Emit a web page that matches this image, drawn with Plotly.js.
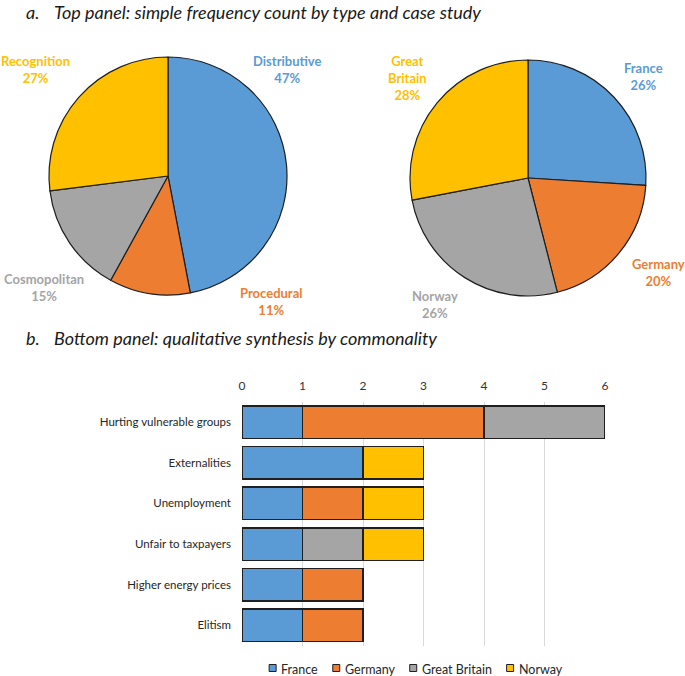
<!DOCTYPE html>
<html>
<head>
<meta charset="utf-8">
<script src="https://cdn.plot.ly/plotly-3.0.1.min.js"></script>
<style>html,body{margin:0;padding:0;background:#fff;}#chart{width:685px;height:676px;}</style>
</head>
<body>
<div id="chart"></div>
<script>
// ---- data ----
var typeLabels = ['Distributive', 'Procedural', 'Cosmopolitan', 'Recognition'];
var typeShares = [47, 11, 15, 27];
var caseLabels = ['France', 'Germany', 'Norway', 'Great Britain'];
var caseShares = [26, 20, 26, 28];

var commonalities = ['Hurting vulnerable groups', 'Externalities', 'Unemployment',
                     'Unfair to taxpayers', 'Higher energy prices', 'Elitism'];
var franceCounts  = [1, 2, 1, 1, 1, 1];
var germanyCounts = [3, 0, 1, 0, 1, 1];
var britainCounts = [2, 0, 0, 1, 0, 0];
var norwayCounts  = [0, 1, 1, 1, 0, 0];
var countTicks = [0, 1, 2, 3, 4, 5, 6];

// ---- styles ----
var BLUE = '#5B9BD5', ORANGE = '#ED7D31', GREY = '#A5A5A5', GOLD = '#FFC000';
var typeColors = [BLUE, ORANGE, GREY, GOLD];
var caseColors = [BLUE, ORANGE, GREY, GOLD];
var FONT = 'Lato, "Open Sans", sans-serif';
var W = 685, H = 676;
function px(x) { return x / W; }
function py(y) { return 1 - y / H; }

// label anchor positions (pixels) for pie labels
var typeLabelPos = [[287, 70], [271, 302], [44, 288], [35, 70]];
var caseLabelPos = [[643, 76.5], [658, 272.5], [435, 304.5], [407, 78.5]];

var pieLine = {color: '#1f1f1f', width: 1.2};
var barLine = {color: '#1f1f1f', width: 1.5};

var traces = [
  {
    type: 'pie', labels: typeLabels, values: typeShares, sort: false,
    direction: 'clockwise', rotation: 0, textinfo: 'none', hoverinfo: 'label+percent',
    marker: {colors: typeColors, line: pieLine}, showlegend: false,
    domain: {x: [px(49), px(287)], y: [py(295), py(57)]}
  },
  {
    type: 'pie', labels: caseLabels, values: caseShares, sort: false,
    direction: 'clockwise', rotation: 0, textinfo: 'none', hoverinfo: 'label+percent',
    marker: {colors: caseColors, line: pieLine}, showlegend: false,
    domain: {x: [px(410), px(646)], y: [py(296), py(60)]}
  }
];

var barSeries = [
  {name: 'France', vals: franceCounts, color: BLUE},
  {name: 'Germany', vals: germanyCounts, color: ORANGE},
  {name: 'Great Britain', vals: britainCounts, color: GREY},
  {name: 'Norway', vals: norwayCounts, color: GOLD}
];
barSeries.forEach(function (s) {
  traces.push({
    type: 'bar', orientation: 'h', name: s.name, x: s.vals, y: commonalities,
    xaxis: 'x', yaxis: 'y', showlegend: false,
    marker: {color: s.color, line: barLine}
  });
});

var annotations = [];
var shapes = [];
function pieLabels(labels, shares, colors, pos, breakSpaces) {
  var total = shares.reduce(function (a, b) { return a + b; }, 0);
  labels.forEach(function (l, i) {
    var txt = (breakSpaces ? l.replace(' ', '<br>') : l) + '<br>' + Math.round(shares[i] / total * 100) + '%';
    annotations.push({
      xref: 'paper', yref: 'paper', x: px(pos[i][0]), y: py(pos[i][1]),
      xanchor: 'center', yanchor: 'middle', showarrow: false, align: 'center',
      text: '<b>' + txt + '</b>',
      font: {family: FONT, size: 13, color: colors[i]}
    });
  });
}
pieLabels(typeLabels, typeShares, typeColors, typeLabelPos, false);
pieLabels(caseLabels, caseShares, caseColors, caseLabelPos, true);

var titleFont = {family: FONT, size: 18, color: '#1a1a1a', style: 'italic'};
annotations.push(
  {xref: 'paper', yref: 'paper', x: px(24), y: py(12), xanchor: 'left', yanchor: 'middle', showarrow: false,
   text: 'a.', font: titleFont},
  {xref: 'paper', yref: 'paper', x: px(52), y: py(12), xanchor: 'left', yanchor: 'middle', showarrow: false,
   text: 'Top panel: simple frequency count by type and case study', font: titleFont},
  {xref: 'paper', yref: 'paper', x: px(24), y: py(338), xanchor: 'left', yanchor: 'middle', showarrow: false,
   text: 'b.', font: titleFont},
  {xref: 'paper', yref: 'paper', x: px(52), y: py(338), xanchor: 'left', yanchor: 'middle', showarrow: false,
   text: 'Bottom panel: qualitative synthesis by commonality', font: titleFont}
);

// ---- compact legend (square + text), laid out from measured text widths ----
var LEG_SIZE = 12.5, LEG_SQ = 7, LEG_TXT_GAP = 4, LEG_ITEM_GAP = 16, LEG_CX = 415, LEG_CY = 668;
var ctx = document.createElement('canvas').getContext('2d');
ctx.font = LEG_SIZE + 'px Lato';
var widths = barSeries.map(function (s) { return ctx.measureText(s.name).width; });
var total = widths.reduce(function (a, w) { return a + LEG_SQ + LEG_TXT_GAP + w; }, 0) + LEG_ITEM_GAP * (barSeries.length - 1);
var cx = LEG_CX - total / 2;
barSeries.forEach(function (s, i) {
  shapes.push({
    type: 'rect', xref: 'paper', yref: 'paper',
    x0: px(cx), x1: px(cx + LEG_SQ), y0: py(LEG_CY + LEG_SQ / 2), y1: py(LEG_CY - LEG_SQ / 2),
    fillcolor: s.color, line: {color: '#1f1f1f', width: 1}
  });
  annotations.push({
    xref: 'paper', yref: 'paper', x: px(cx + LEG_SQ + LEG_TXT_GAP - 1), y: py(LEG_CY + 1),
    xanchor: 'left', yanchor: 'middle', showarrow: false, text: s.name,
    font: {family: FONT, size: LEG_SIZE, color: '#262626'}
  });
  cx += LEG_SQ + LEG_TXT_GAP + widths[i] + LEG_ITEM_GAP;
});

var layout = {
  width: W, height: H,
  margin: {l: 0, r: 0, t: 0, b: 0},
  paper_bgcolor: '#ffffff', plot_bgcolor: '#ffffff',
  font: {family: FONT, size: 12, color: '#262626'},
  barmode: 'stack', bargap: 0.2,
  xaxis: {
    domain: [px(242), px(605)], range: [0, 6], side: 'top', anchor: 'y',
    tickvals: countTicks, ticktext: countTicks.map(String),
    showgrid: true, gridcolor: '#d9d9d9', gridwidth: 1, zeroline: false, showline: false,
    ticks: '', ticklabelstandoff: 9, tickfont: {family: FONT, size: 12, color: '#333333'}, fixedrange: true
  },
  yaxis: {
    domain: [py(645.5), py(402)], autorange: 'reversed', type: 'category', anchor: 'x',
    showgrid: false, zeroline: false, showline: false, ticks: '', ticklabelstandoff: 10,
    tickfont: {family: FONT, size: 11.5, color: '#262626'}, fixedrange: true
  },
  showlegend: false,
  shapes: shapes,
  annotations: annotations
};

Plotly.newPlot('chart', traces, layout, {displayModeBar: false, staticPlot: true});
</script>
</body>
</html>
